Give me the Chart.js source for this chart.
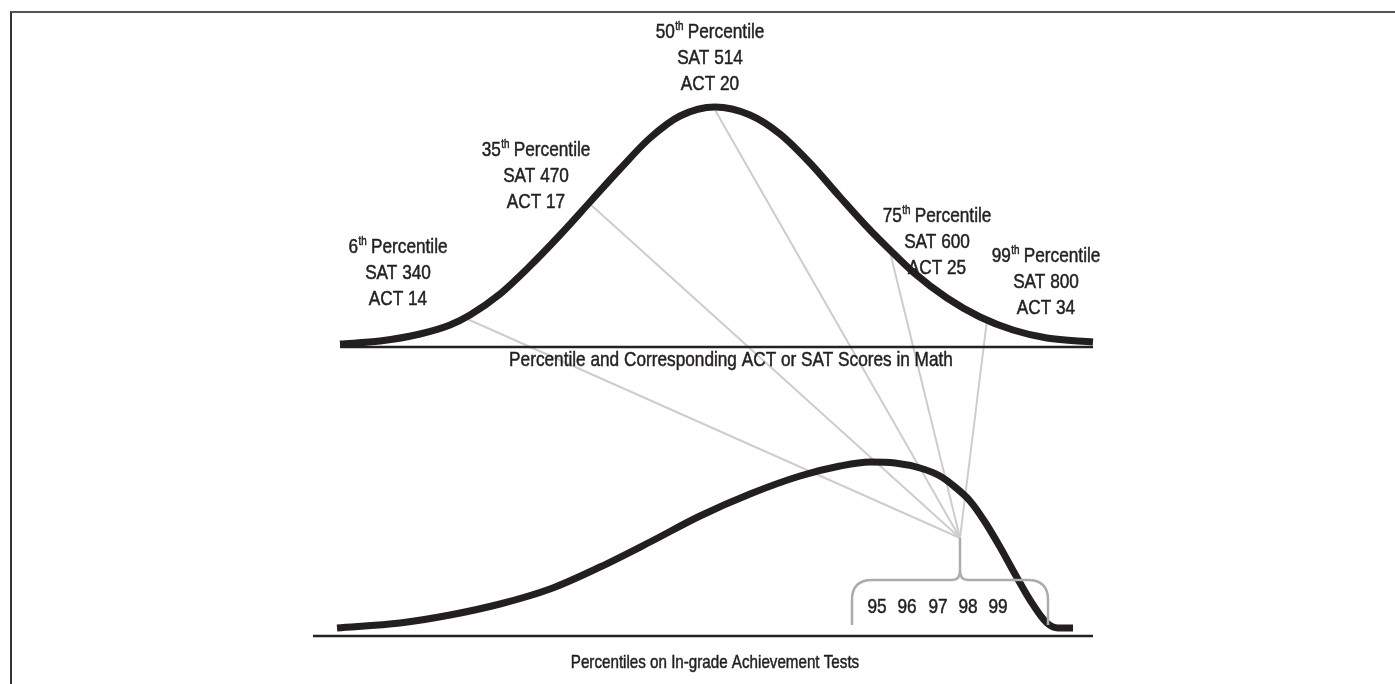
<!DOCTYPE html>
<html>
<head>
<meta charset="utf-8">
<script src="https://cdn.jsdelivr.net/npm/chart.js@4"></script>
<style>
  html, body { margin: 0; padding: 0; background: #fff; }
  #wrap { position: relative; width: 1395px; height: 684px; }
  #frame { position: absolute; left: 10px; top: 11px; right: 0; bottom: 0;
           border-top: 2px solid #555; border-left: 2px solid #333; }
</style>
</head>
<body>
<div id="wrap">
  <div id="frame"></div>
  <canvas id="curves"></canvas>
</div>
<script>
// === data ===
// x = horizontal position, y = drawing row (0 at top)
const topCurveX = [340, 380, 420, 450, 470, 500, 530, 560, 590, 620, 650, 680, 715, 750, 780, 810, 840, 870, 890, 913, 947, 980, 1013, 1047, 1093];
const topCurveY = [344, 341, 334, 325, 315, 294, 266, 235, 202, 169, 138, 116, 107, 115, 134, 163, 197, 230, 250, 272, 298, 317, 330, 338, 342];

const bottomCurveX = [337, 400, 450, 500, 550, 600, 650, 700, 750, 800, 840, 870, 895, 920, 940, 955, 970, 985, 1000, 1015, 1030, 1047, 1058, 1073];
const bottomCurveY = [628, 623, 615, 604, 589, 567, 542, 516, 494, 476, 466, 462, 463, 468, 476, 487, 501, 522, 547, 574, 600, 623, 628, 628];

const percentiles = ["6", "35", "50", "75", "99"];
const satScores = [340, 470, 514, 600, 800];
const actScores = [14, 17, 20, 25, 34];
// where each percentile sits on the top curve
const anchorX = [465, 590, 715, 890, 987];
const anchorY = [318, 204, 110, 252, 320];

const gradeTicks = ["95", "96", "97", "98", "99"];

const topTitle = "Percentile and Corresponding ACT or SAT Scores in Math";
const bottomTitle = "Percentiles on In-grade Achievement Tests";

// === layout ===
const meet = { x: 960, y: 538 };
const stemEnd = 571;
const bracket = { left: 852, right: 1048, top: 580, bottom: 625, r: 20 };
const labelX = [398, 536, 710, 937, 1046];
const labelTopY = [247, 150, 32, 216, 256];
const lineGap = 26;
const tickX = [877, 907, 938, 968, 998];
const tickY = 607;
const baseTop = { x1: 340, x2: 1093, y: 347 };
const baseBottom = { x1: 313, x2: 1093, y: 636 };

const FONT = '"Liberation Sans", Arial, sans-serif';
const NARROW = 0.82; // squeeze to look like a condensed face
const INK = "#231f20";

const toPts = (xs, ys) => xs.map((x, i) => ({ x, y: ys[i] }));

const datasets = [
    { data: toPts(topCurveX, topCurveY), borderColor: INK, borderWidth: 7, cubicInterpolationMode: "monotone", order: 0 },
    { data: toPts(bottomCurveX, bottomCurveY), borderColor: INK, borderWidth: 7, cubicInterpolationMode: "monotone", order: 0 },
    { data: [{ x: baseTop.x1, y: baseTop.y }, { x: baseTop.x2, y: baseTop.y }], borderColor: "#222", borderWidth: 2.5, order: 1 },
    { data: [{ x: baseBottom.x1, y: baseBottom.y }, { x: baseBottom.x2, y: baseBottom.y }], borderColor: "#222", borderWidth: 2.5, order: 1 },
    { data: [{ x: meet.x, y: meet.y }, { x: meet.x, y: stemEnd }], borderColor: "#acacac", borderWidth: 2.5, order: 2 },
];
// connector from each percentile down to the meeting point
anchorX.forEach((x, i) => {
    datasets.push({
        data: [{ x, y: anchorY[i] }, { x: meet.x, y: meet.y }],
        borderColor: "#cdcdcd", borderWidth: 2, order: 3,
    });
});

// narrow text helper, returns drawn width
function narrowText(ctx, text, x, y, size, align) {
    ctx.font = size + "px " + FONT;
    const w = ctx.measureText(text).width * NARROW;
    let left = x;
    if (align === "center") left = x - w / 2;
    ctx.save();
    ctx.translate(left, y);
    ctx.scale(NARROW, 1);
    ctx.textAlign = "left";
    ctx.lineWidth = 0.5;
    ctx.strokeStyle = INK;
    ctx.fillText(text, 0, 0);
    ctx.strokeText(text, 0, 0);
    ctx.restore();
    return w;
}
function narrowWidth(ctx, text, size) {
    ctx.font = size + "px " + FONT;
    return ctx.measureText(text).width * NARROW;
}

// === text + bracket ===
const annotations = {
    id: "annotations",
    afterDatasetsDraw(chart) {
        const { ctx, scales } = chart;
        const px = v => scales.x.getPixelForValue(v);
        const py = v => scales.y.getPixelForValue(v);
        ctx.save();

        // bracket
        const b = bracket;
        ctx.strokeStyle = "#acacac";
        ctx.lineWidth = 2.5;
        ctx.beginPath();
        ctx.moveTo(px(b.left), py(b.bottom));
        ctx.lineTo(px(b.left), py(b.top + b.r));
        ctx.quadraticCurveTo(px(b.left), py(b.top), px(b.left + b.r), py(b.top));
        ctx.lineTo(px(meet.x - 8), py(b.top));
        ctx.quadraticCurveTo(px(meet.x), py(b.top), px(meet.x), py(stemEnd));
        ctx.quadraticCurveTo(px(meet.x), py(b.top), px(meet.x + 8), py(b.top));
        ctx.lineTo(px(b.right - b.r), py(b.top));
        ctx.quadraticCurveTo(px(b.right), py(b.top), px(b.right), py(b.top + b.r));
        ctx.lineTo(px(b.right), py(b.bottom));
        ctx.stroke();

        ctx.fillStyle = INK;
        ctx.textBaseline = "middle";

        percentiles.forEach((p, i) => {
            const cx = px(labelX[i]);
            const y0 = py(labelTopY[i]);
            const total = narrowWidth(ctx, p, 21) + narrowWidth(ctx, "th", 12) + narrowWidth(ctx, " Percentile", 21);
            let x = cx - total / 2;
            x += narrowText(ctx, p, x, y0, 21, "left");
            x += narrowText(ctx, "th", x + 0.5, y0 - 5, 12, "left");
            narrowText(ctx, " Percentile", x, y0, 21, "left");

            narrowText(ctx, "SAT " + satScores[i], cx, y0 + lineGap, 21, "center");
            narrowText(ctx, "ACT " + actScores[i], cx, y0 + lineGap * 2, 21, "center");
        });

        gradeTicks.forEach((t, i) => narrowText(ctx, t, px(tickX[i]), py(tickY), 21, "center"));

        narrowText(ctx, topTitle, px(731), py(360), 21, "center");
        narrowText(ctx, bottomTitle, px(715), py(663), 18.5, "center");
        ctx.restore();
    },
};

new Chart(document.getElementById("curves"), {
    type: "line",
    data: { datasets },
    options: {
        responsive: true,
        maintainAspectRatio: false,
        devicePixelRatio: 1,
        animation: false,
        layout: { padding: 0 },
        elements: { point: { radius: 0 }, line: { borderCapStyle: "butt", fill: false } },
        plugins: { legend: { display: false }, tooltip: { enabled: false } },
        scales: {
            x: { type: "linear", min: 0, max: 1395, display: false },
            y: { type: "linear", min: 0, max: 684, reverse: true, display: false },
        },
    },
    plugins: [annotations],
});
</script>
</body>
</html>
